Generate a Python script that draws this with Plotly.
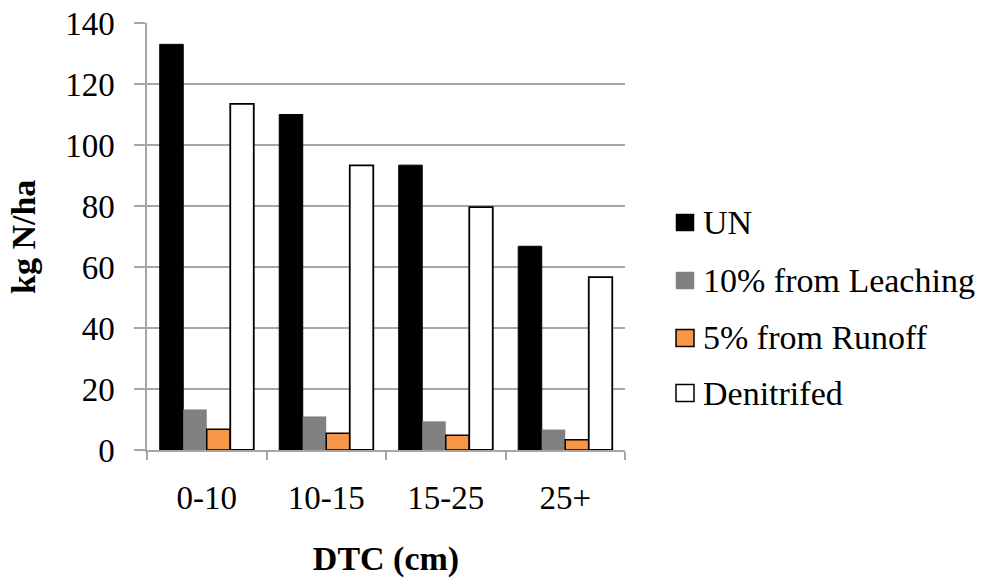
import plotly.graph_objects as go

categories = ["0-10", "10-15", "15-25", "25+"]
un = [133.0, 110.0, 93.4, 66.8]
leaching = [13.3, 11.0, 9.4, 6.7]
runoff = [6.8, 5.5, 4.8, 3.4]
denitrified = [113.5, 93.3, 79.6, 56.7]
series_names = ["UN", "10% from Leaching", "5% from Runoff", "Denitrifed"]

FONT = "Liberation Serif, Times New Roman, serif"

# plot-area geometry in pixels (used for legend placement only)
L, R, T, B = 147, 625, 23, 450
def px_x(p):
    return (p - L) / (R - L)
def px_y(p):
    return (B - p) / (B - T)

fills = ["#000000", "#808080", "#F79646", "#FFFFFF"]
lines = [dict(color="#000000", width=1), dict(color="#808080", width=0),
         dict(color="#000000", width=1.5), dict(color="#000000", width=1.8)]
values = [un, leaching, runoff, denitrified]

fig = go.Figure()
for name, vals, color, line in zip(series_names, values, fills, lines):
    fig.add_trace(go.Bar(x=categories, y=vals, name=name,
                         marker=dict(color=color, line=line)))

# manual legend (swatch + label)
legend_y = [222.5, 280.5, 338, 393]
shapes, annotations = [], []
for name, color, yc, i in zip(series_names, fills, legend_y, range(4)):
    shapes.append(dict(
        type="rect", xref="paper", yref="paper",
        x0=px_x(676), x1=px_x(694), y0=px_y(yc + 8.5), y1=px_y(yc - 8.5),
        fillcolor=color,
        line=dict(color=("#000000" if i != 1 else "#808080"), width=(1.5 if i >= 2 else 0.5)),
    ))
    annotations.append(dict(
        text=name, xref="paper", yref="paper", x=px_x(701), y=px_y(yc),
        xanchor="left", yanchor="middle", showarrow=False,
        font=dict(family=FONT, size=34, color="#000000"),
    ))
annotations.append(dict(
    text="<b>kg N/ha</b>", textangle=-90, xref="paper", yref="paper",
    x=px_x(23.5), y=0.5, xanchor="center", yanchor="middle",
    showarrow=False, font=dict(family=FONT, size=34, color="#000000"),
))

fig.update_layout(
    width=982, height=583,
    margin=dict(l=L, r=982 - R, t=T, b=583 - B),
    paper_bgcolor="white", plot_bgcolor="white",
    barmode="group", bargap=0.213, bargroupgap=0,
    font=dict(family=FONT, size=33, color="#000000"),
    showlegend=False,
    shapes=shapes, annotations=annotations,
)
fig.update_xaxes(
    type="category", tickson="boundaries", automargin=False,
    showline=True, linecolor="#A6A6A6", linewidth=1.5,
    ticks="outside", ticklen=8, tickcolor="#A6A6A6", tickwidth=1.5,
    showgrid=False,
    tickfont=dict(family=FONT, size=33),
    ticklabelstandoff=18,
    title=dict(text="<b>DTC (cm)</b>", font=dict(family=FONT, size=34), standoff=31),
)
fig.update_yaxes(
    range=[0, 140], dtick=20, automargin=False,
    showline=True, linecolor="#A6A6A6", linewidth=1.5,
    ticks="outside", ticklen=11, tickcolor="#A6A6A6", tickwidth=1.5,
    showgrid=True, gridcolor="#A6A6A6", gridwidth=1.5,
    zeroline=False,
    tickfont=dict(family=FONT, size=33),
    ticklabelstandoff=13,
)

fig.write_html("out.html")
